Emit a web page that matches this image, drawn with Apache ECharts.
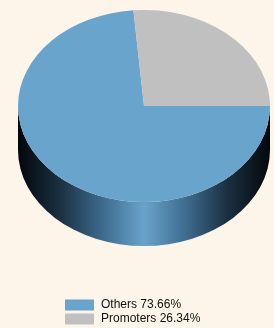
<!DOCTYPE html>
<html>
<head>
<meta charset="utf-8">
<script src="https://cdn.jsdelivr.net/npm/echarts@6/dist/echarts.min.js"></script>
<style>
  html, body { margin: 0; padding: 0; background: #fdf4ea; }
  #chart { width: 274px; height: 328px; }
</style>
</head>
<body>
<div id="chart"></div>
<script>
const categories = ['Others', 'Promoters']
const values = [73.66, 26.34]

const topColors = ['#69a4cc', '#c0c0c0']
const sideStops = [
  ['#03070b', '#1b3042', '#3c6a8d', '#6aa3ca', '#3e6c8f', '#1b2e3f', '#04080c'],
  ['#1a1a1a', '#4a4a4a', '#7a7a7a', '#b8b8b8', '#7a7a7a', '#4a4a4a', '#1a1a1a']
]

const total = values.reduce((a, b) => a + b, 0)

// pie geometry (3d cylinder look)
const cx = 144
const cy = 106
const rx = 126
const ry = 96
const depth = 44

const startAngles = []
let acc = 0
values.forEach((v) => {
  startAngles.push(acc)
  acc += (v / total) * Math.PI * 2
})

const pt = (a, dy) => [cx + rx * Math.cos(a), cy + ry * Math.sin(a) + dy]

function sidePath (s, e) {
  const p0 = pt(s, 0)
  const p1 = pt(e, 0)
  const p2 = pt(e, depth)
  const p3 = pt(s, depth)
  return 'M' + p0[0] + ' ' + p0[1] +
    ' A' + rx + ' ' + ry + ' 0 0 1 ' + p1[0] + ' ' + p1[1] +
    ' L' + p2[0] + ' ' + p2[1] +
    ' A' + rx + ' ' + ry + ' 0 0 0 ' + p3[0] + ' ' + p3[1] + ' Z'
}

function makeSeries (i) {
  return {
    name: categories[i],
    type: 'custom',
    coordinateSystem: 'none',
    data: [values[i]],
    itemStyle: { color: topColors[i] },
    renderItem: (params, api) => {
      const s = startAngles[i]
      const e = s + (api.value(0) / total) * Math.PI * 2
      const children = []
      // front side, only the part below the equator (0..PI) is visible
      const vs = Math.max(s, 0)
      const ve = Math.min(e, Math.PI)
      if (ve > vs) {
        children.push({
          type: 'path',
          shape: { pathData: sidePath(vs, ve) },
          style: {
            fill: {
              type: 'linear',
              x: cx - rx, y: 0, x2: cx + rx, y2: 0,
              global: true,
              colorStops: sideStops[i].map((c, k, arr) => ({ offset: k / (arr.length - 1), color: c }))
            }
          },
          z2: 1
        })
      }
      children.push({
        type: 'sector',
        shape: { cx: cx, cy: cy, r0: 0, r: rx, startAngle: s, endAngle: e, clockwise: true },
        originX: cx,
        originY: cy,
        scaleY: ry / rx,
        style: { fill: topColors[i] },
        z2: 2
      })
      return { type: 'group', children: children }
    }
  }
}

const chart = echarts.init(document.getElementById('chart'))

chart.setOption({
  backgroundColor: '#fdf4ea',
  animation: false,
  legend: {
    orient: 'vertical',
    left: 60,
    top: 293,
    height: 40,
    itemWidth: 29,
    itemHeight: 11,
    itemGap: 0,
    icon: 'rect',
    data: categories,
    textStyle: {
      color: '#111',
      fontSize: 12,
      lineHeight: 14,
      fontFamily: 'Liberation Sans',
      padding: [0, 0, 0, 2]
    },
    formatter: (name) => {
      const v = values[categories.indexOf(name)]
      return name + ' ' + (v / total * 100).toFixed(2) + '%'
    }
  },
  series: categories.map((c, i) => makeSeries(i))
})
</script>
</body>
</html>
